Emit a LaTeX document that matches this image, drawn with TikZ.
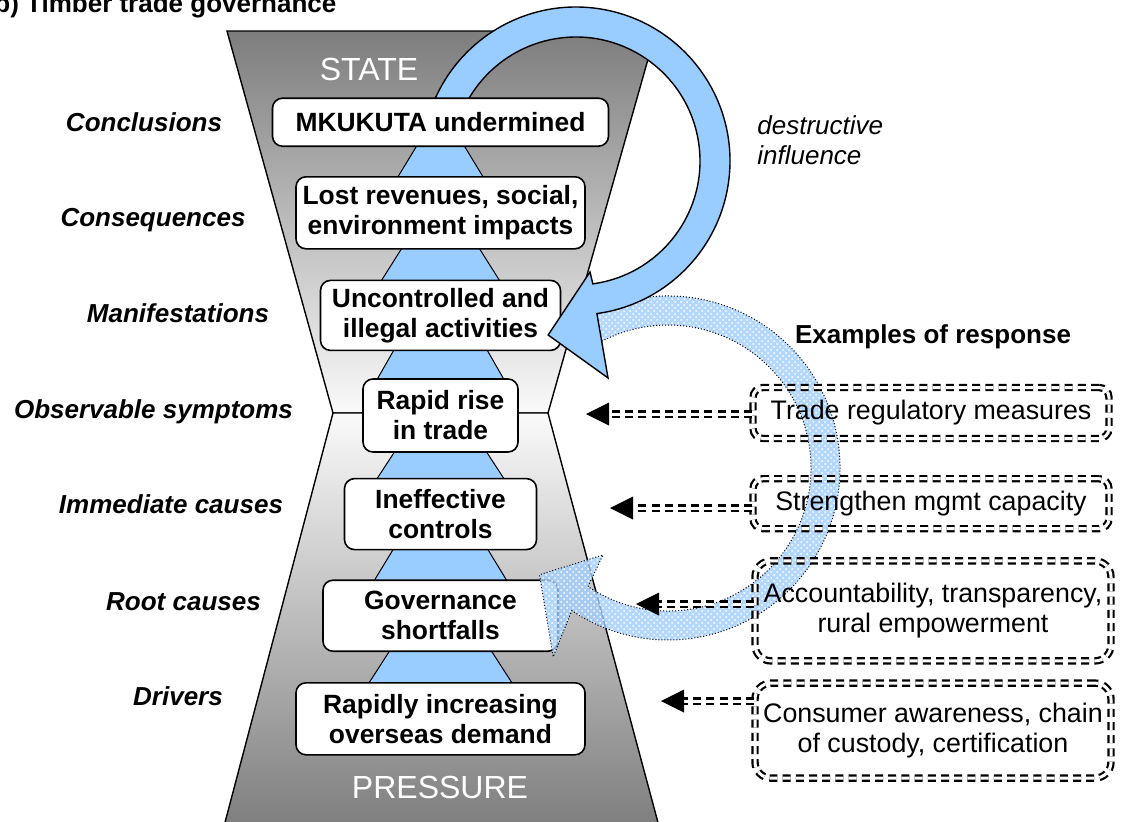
\documentclass[tikz,border=0pt]{standalone}
\usepackage{fontspec}
\setmainfont{Liberation Sans}
\usetikzlibrary{positioning,calc,patterns,arrows.meta}
\pgfdeclarelayer{background}
\pgfsetlayers{background,main}
\definecolor{skyblue}{RGB}{153,204,255}
\definecolor{texblue}{RGB}{160,205,255}
\definecolor{hourgray}{RGB}{125,125,125}
\definecolor{waistgray}{RGB}{250,250,250}

\begin{document}
\begin{tikzpicture}
    [x=0.5pt,y=0.5pt,
tier/.style={rectangle, rounded corners=5pt, draw=black, fill=white, line width=0.8pt, align=center, inner sep=2pt, font=\fontsize{13.2}{15}\selectfont\bfseries},
tierlabel/.style={anchor=base, inner sep=0pt, font=\fontsize{13}{15}\selectfont\bfseries\itshape},
flowtri/.style={fill=skyblue, draw=black, line width=0.5pt},
respbox/.style={rectangle, rounded corners=5pt, draw=black, double=white, double distance=1.5pt, line width=1.1pt, dash pattern=on 4pt off 2.6pt, align=center, minimum width=178pt, font=\fontsize{13.4}{15}\selectfont},
respline/.style={draw=black, double=white, double distance=1.5pt, line width=1.1pt, dash pattern=on 4pt off 2.6pt}
]

\useasboundingbox (0,0) rectangle (1121,-821);

% hourglass
\begin{pgfonlayer}{background}
\draw[line width=0.7pt, top color=hourgray, bottom color=waistgray] (227,-31) -- (656,-31) -- (548,-413) -- (333,-413) -- cycle;
\draw[line width=0.7pt, top color=waistgray, bottom color=hourgray] (333,-413) -- (548,-413) -- (660,-830) -- (223,-830) -- cycle;
\end{pgfonlayer}

\node[text=white, font=\fontsize{16}{19}\selectfont](state) at (369,-69){STATE};
\node[text=white, font=\fontsize{16}{19}\selectfont](pressure) at (440,-787){PRESSURE};

\node[tier, minimum width=77.5pt, minimum height=36.5pt](rise) at (440.5,-415.5){Rapid rise\\in trade};
\node[tier, minimum width=120pt, minimum height=35pt](uncontrolled)[above=13.5pt of rise]{Uncontrolled and\\illegal activities};
\node[tier, minimum width=144.5pt, minimum height=36pt](lost)[above=15pt of uncontrolled]{Lost revenues, social,\\environment impacts};
\node[tier, minimum width=96pt, minimum height=35.5pt](ineffective)[below=12.5pt of rise]{Ineffective\\controls};
\node[tier, minimum width=117.5pt, minimum height=35.5pt](governance)[below=14.5pt of ineffective]{Governance\\shortfalls};
\node[tier, minimum width=144.5pt, minimum height=36pt](demand)[below=15pt of governance]{Rapidly increasing\\overseas demand};

\node[tierlabel](conclusions) at (144,-131){Conclusions};
\node[tierlabel](consequences) at (153,-226){Consequences};
\node[tierlabel](manifestations) at (178,-322){Manifestations};
\node[tierlabel](symptoms) at (153.5,-418){Observable symptoms};
\node[tierlabel](immediate) at (171,-513){Immediate causes};
\node[tierlabel](root) at (183.5,-610){Root causes};
\node[tierlabel](drivers) at (178,-705){Drivers};

\node[anchor=base west, inner sep=0pt, font=\fontsize{13}{15}\selectfont\bfseries](title) at (-6,-12){b) Timber trade governance};
\node[anchor=west, align=left, inner sep=0pt, font=\fontsize{13}{15}\selectfont\itshape](influence) at (757,-140){destructive\\influence};
\node[font=\fontsize{13}{15}\selectfont\bfseries](examples) at (933,-337){Examples of response};

% response loop
\coordinate (tc) at (668,-468);
\path[preaction={fill=texblue, fill opacity=0.8}, pattern=crosshatch dots, pattern color=white, draw=black, densely dotted, line width=0.5pt]
    ($(tc)+(118:172)$) arc[start angle=118, end angle=-124, radius=172] -- ($(tc)+(-121.3:221)$) -- ($(tc)+(-140.3:167)$)
    -- ($(tc)+(-126.8:108.6)$) -- ($(tc)+(-124:143)$) arc[start angle=-124, end angle=118, radius=143] -- cycle;

\node[respbox, minimum height=25.5pt](trade) at (931,-413){Trade regulatory measures};
\node[respbox, minimum height=25pt](mgmt)[below=19pt of trade]{Strengthen mgmt capacity};
\node[respbox, minimum height=50pt, rounded corners=8pt](account)[below=15pt of mgmt, xshift=1pt]{Accountability, transparency,\\rural empowerment};
\node[respbox, minimum height=47.5pt, rounded corners=8pt](consumer)[below=10pt of account]{Consumer awareness, chain\\of custody, certification};

\coordinate (trade-tip) at (586,-414);
\coordinate (mgmt-tip) at (610,-508);
\coordinate (account-tip) at (636,-604);
\coordinate (consumer-tip) at (661,-701);

\foreach \b in {trade,mgmt,account,consumer}{
    \draw[respline] (\b.west |- \b-tip) -- ($(\b-tip)+(22,0)$);
    \fill (\b-tip) -- ++(23,11.5) -- ++(0,-23) -- cycle;
}

% destructive loop
\coordinate (rc) at (576,-161);
\draw[fill=skyblue, line width=0.7pt] ($(rc)+(172:154)$) arc[start angle=172, end angle=-82.2, radius=154] -- ($(rc)+(-81.6:219.3)$)
    -- ($(rc)+(-99.1:176.2)$) -- ($(rc)+(-82.8:111.9)$) -- ($(rc)+(-82.2:124)$) arc[start angle=-82.2, end angle=172, radius=124] -- cycle;

\node[tier, minimum width=168pt, minimum height=24pt](mkukuta)[above=14.5pt of lost]{MKUKUTA undermined};

\begin{pgfonlayer}{background}
\foreach \upper/\lower/\wa/\wb in {mkukuta/lost/24/42.5, lost/uncontrolled/39/59, uncontrolled/rise/47/63, rise/ineffective/46/63.5, ineffective/governance/47.5/66, governance/demand/51/71.5}
    \draw[flowtri] ($(\upper.south)+(-\wa+2,4)$) -- ($(\upper.south)+(\wa-2,4)$) -- ($(\lower.north)+(\wb+2,-4)$) -- ($(\lower.north)+(-\wb-2,-4)$) -- cycle;
\end{pgfonlayer}

\end{tikzpicture}
\end{document}
